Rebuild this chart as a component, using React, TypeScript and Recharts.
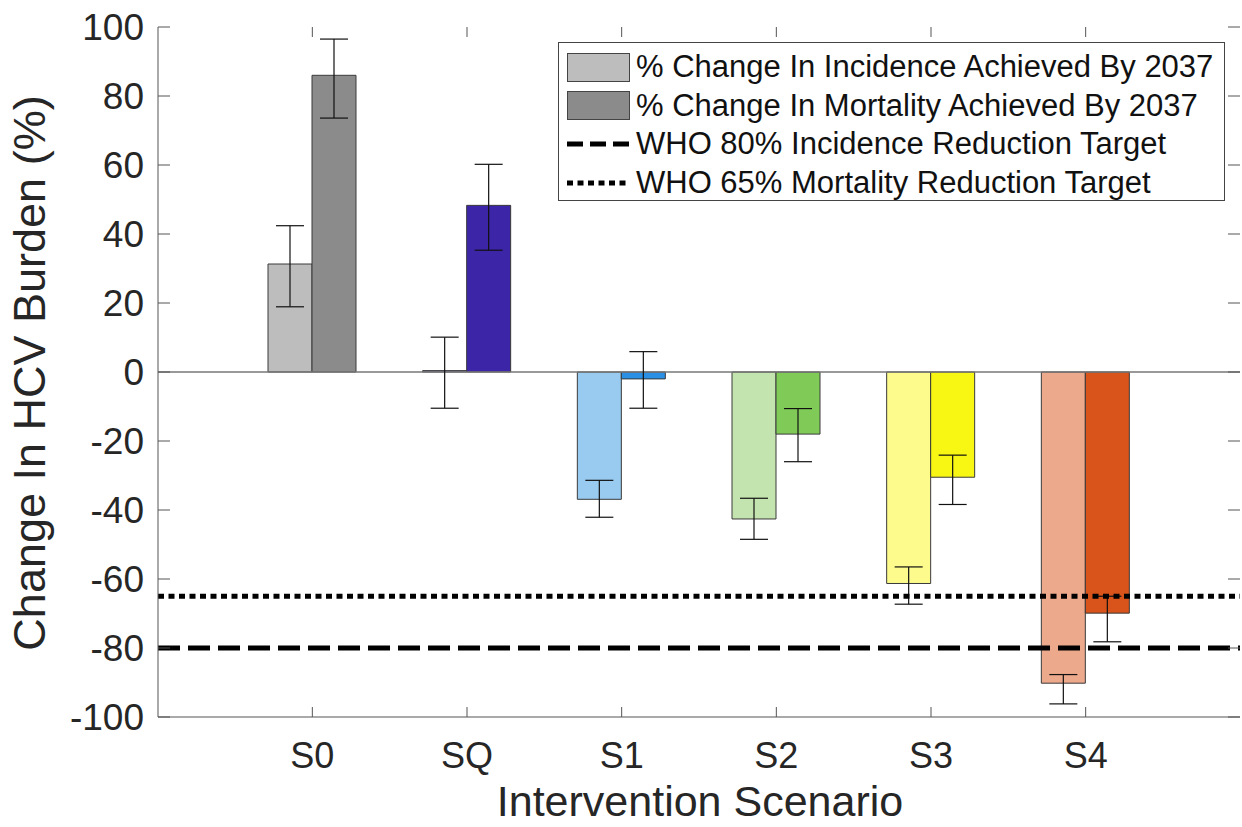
import React from "react";
import {
  ComposedChart,
  Bar,
  Cell,
  ErrorBar,
  XAxis,
  YAxis,
  ReferenceLine,
  Legend,
} from "recharts";

const scenarios = ["S0", "SQ", "S1", "S2", "S3", "S4"];
const incidence = [31.3, 0.4, -36.9, -42.6, -61.3, -90.2];
const incidenceLow = [18.9, -10.5, -42.1, -48.5, -67.3, -96.2];
const incidenceHigh = [42.4, 10.1, -31.4, -36.6, -56.5, -87.7];
const mortality = [86.0, 48.3, -2.0, -18.0, -30.5, -69.9];
const mortalityLow = [73.6, 35.3, -10.5, -26.0, -38.4, -78.2];
const mortalityHigh = [96.5, 60.2, 5.9, -10.6, -24.1, -65.0];
const incidenceColors = ["#bdbdbd", "#8d80cf", "#99cbf0", "#c3e4ae", "#fcfb8c", "#eca98c"];
const mortalityColors = ["#8b8b8b", "#3d25a8", "#2b8fe3", "#80cb58", "#f8f714", "#d9541b"];
const yTicks = [-100, -80, -60, -40, -20, 0, 20, 40, 60, 80, 100];
const incidenceTarget = -80;
const mortalityTarget = -65;

const data = scenarios.map((s, i) => ({
  name: s,
  inc: incidence[i],
  incErr: [incidence[i] - incidenceLow[i], incidenceHigh[i] - incidence[i]],
  mort: mortality[i],
  mortErr: [mortality[i] - mortalityLow[i], mortalityHigh[i] - mortality[i]],
}));

const FONT = "'Liberation Sans', Arial, Helvetica, sans-serif";
const TEXT = "#262626";
const AXIS = "#555";

// plot box (pixels)
const PLOT_LEFT = 158;
const PLOT_RIGHT = 1240;
const PLOT_TOP = 27;
const PLOT_BOTTOM = 717;

function LegendBox() {
  const row: React.CSSProperties = { display: "flex", alignItems: "center", height: 38.5 };
  const label: React.CSSProperties = { marginLeft: 6, whiteSpace: "nowrap" };
  return (
    <div
      style={{
        width: 667,
        height: 159,
        border: "1px solid #444",
        background: "#fff",
        boxSizing: "border-box",
        padding: "5px 0 0 8px",
        fontFamily: FONT,
        fontSize: 31,
        color: "#111",
      }}
    >
      <div style={row}>
        <div style={{ width: 63, height: 29, background: incidenceColors[0], border: "1px solid #444", boxSizing: "border-box" }} />
        <span style={label}>% Change In Incidence Achieved By 2037</span>
      </div>
      <div style={row}>
        <div style={{ width: 63, height: 29, background: mortalityColors[0], border: "1px solid #444", boxSizing: "border-box" }} />
        <span style={label}>% Change In Mortality Achieved By 2037</span>
      </div>
      <div style={row}>
        <svg width={63} height={10}>
          <line x1={0} y1={5} x2={63} y2={5} stroke="#000" strokeWidth={5} strokeDasharray="16 7" />
        </svg>
        <span style={label}>WHO 80% Incidence Reduction Target</span>
      </div>
      <div style={row}>
        <svg width={63} height={10}>
          <line x1={0} y1={5} x2={63} y2={5} stroke="#000" strokeWidth={5} strokeDasharray="6 4.5" />
        </svg>
        <span style={label}>WHO 65% Mortality Reduction Target</span>
      </div>
    </div>
  );
}

const YTick = (props: any) => {
  const { x, y, payload } = props;
  return (
    <g>
      <text x={x} y={y} dy="0.355em" textAnchor="end" fill={TEXT} fontSize={37} fontFamily={FONT}>
        {payload.value}
      </text>
      <line x1={PLOT_LEFT} x2={PLOT_LEFT + 12} y1={y} y2={y} stroke={AXIS} />
      <line x1={PLOT_RIGHT - 12} x2={PLOT_RIGHT} y1={y} y2={y} stroke={AXIS} />
    </g>
  );
};

const XTick = (props: any) => {
  const { x, y, payload } = props;
  return (
    <g>
      <text x={x} y={y} dy="0.71em" textAnchor="middle" fill={TEXT} fontSize={36} fontFamily={FONT}>
        {payload.value}
      </text>
      <line x1={x} x2={x} y1={PLOT_BOTTOM} y2={PLOT_BOTTOM - 10} stroke={AXIS} />
      <line x1={x} x2={x} y1={PLOT_TOP} y2={PLOT_TOP + 10} stroke={AXIS} />
    </g>
  );
};

export default function App() {
  return (
    <div style={{ position: "absolute", left: 0, top: 0, background: "#fff" }}>
      <ComposedChart
        width={1242}
        height={827}
        data={data}
        margin={{ top: PLOT_TOP, right: 1242 - PLOT_RIGHT, bottom: 0, left: 0 }}
        barGap={0}
      >
        <XAxis
          dataKey="name"
          padding={{ left: 77, right: 77 }}
          height={827 - PLOT_BOTTOM}
          stroke={AXIS}
          tickLine={false}
          tickMargin={19}
          tick={<XTick />}
          label={() => (
            <text x={700} y={816} textAnchor="middle" fill={TEXT} fontSize={43} fontFamily={FONT}>
              Intervention Scenario
            </text>
          )}
        />
        <XAxis
          xAxisId="top"
          dataKey="name"
          orientation="top"
          padding={{ left: 77, right: 77 }}
          height={0}
          stroke={AXIS}
          tickLine={false}
          tick={false}
        />
        <YAxis
          domain={[-100, 100]}
          ticks={yTicks}
          width={PLOT_LEFT}
          stroke={AXIS}
          tickLine={false}
          tickMargin={8}
          interval={0}
          tick={<YTick />}
          label={() => (
            <text
              x={45}
              y={373}
              transform="rotate(-90 45 373)"
              textAnchor="middle"
              fill={TEXT}
              fontSize={45}
              fontFamily={FONT}
            >
              Change In HCV Burden (%)
            </text>
          )}
        />
        <YAxis
          yAxisId="right"
          orientation="right"
          domain={[-100, 100]}
          ticks={yTicks}
          width={0}
          stroke={AXIS}
          tickLine={false}
          tick={false}
        />
        <ReferenceLine y={0} stroke="#777" strokeWidth={1.5} />
        <Bar dataKey="inc" barSize={44} stroke="#3a3a3a" strokeWidth={1} isAnimationActive={false}>
          {data.map((d, i) => (
            <Cell key={d.name} fill={incidenceColors[i]} />
          ))}
          <ErrorBar dataKey="incErr" width={14} stroke="#111" strokeWidth={1.2} />
        </Bar>
        <Bar dataKey="mort" barSize={44} stroke="#3a3a3a" strokeWidth={1} isAnimationActive={false}>
          {data.map((d, i) => (
            <Cell key={d.name} fill={mortalityColors[i]} />
          ))}
          <ErrorBar dataKey="mortErr" width={14} stroke="#111" strokeWidth={1.2} />
        </Bar>
        <ReferenceLine y={mortalityTarget} stroke="#000" strokeWidth={5} strokeDasharray="6 4.5" />
        <ReferenceLine y={incidenceTarget} stroke="#000" strokeWidth={5} strokeDasharray="22 8" />
        <Legend
          layout="vertical"
          align="center"
          verticalAlign="middle"
          wrapperStyle={{ left: 558, top: 42, width: 667 }}
          content={() => <LegendBox />}
        />
      </ComposedChart>
    </div>
  );
}
